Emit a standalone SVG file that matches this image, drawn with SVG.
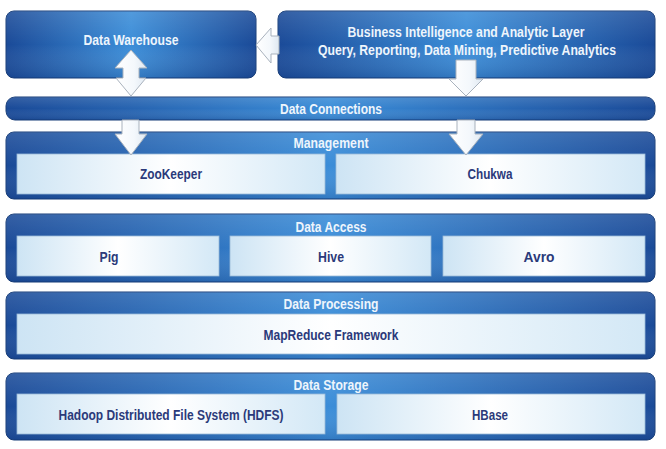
<svg xmlns="http://www.w3.org/2000/svg" width="666" height="449" viewBox="0 0 666 449">
<defs>
<linearGradient id="blueH" x1="0" y1="0" x2="1" y2="0">
<stop offset="0" stop-color="#1a4a98"/>
<stop offset="0.5" stop-color="#3b8dd8"/>
<stop offset="1" stop-color="#1a4a98"/>
</linearGradient>
<linearGradient id="blueV" x1="0" y1="0" x2="0" y2="1">
<stop offset="0" stop-color="#ffffff" stop-opacity="0.12"/>
<stop offset="0.5" stop-color="#ffffff" stop-opacity="0"/>
<stop offset="1" stop-color="#0a2a66" stop-opacity="0.2"/>
</linearGradient>
<linearGradient id="inner" x1="0" y1="0" x2="1" y2="0">
<stop offset="0" stop-color="#cde4f4"/>
<stop offset="0.5" stop-color="#ffffff"/>
<stop offset="1" stop-color="#d3e8f6"/>
</linearGradient>
<linearGradient id="arrowFill" x1="0" y1="0" x2="1" y2="0">
<stop offset="0" stop-color="#ffffff"/>
<stop offset="0.6" stop-color="#f4f8fc"/>
<stop offset="1" stop-color="#dfe8f1"/>
</linearGradient>
</defs>
<style>
.outer{fill:url(#blueH);stroke:#173d78;stroke-width:1}
.shade{fill:url(#blueV);stroke:none}
.in{fill:url(#inner);stroke:#9ab9d8;stroke-width:0.8}
.h{font-family:"Liberation Sans",Arial,sans-serif;font-weight:bold;font-size:14px;fill:#eef5fc;text-anchor:middle}
.t{font-family:"Liberation Sans",Arial,sans-serif;font-weight:bold;font-size:14px;fill:#2b3a7a;text-anchor:middle}
.arr{fill:url(#arrowFill);stroke:#a9b2bd;stroke-width:1;stroke-linejoin:miter}
</style>
<rect width="666" height="449" fill="#ffffff"/>

<g id="data-warehouse">
<rect class="outer" x="6" y="11" width="250" height="67" rx="8"/>
<rect class="shade" x="6" y="11" width="250" height="67" rx="8"/>
<text class="h" x="131" y="45" textLength="95" lengthAdjust="spacingAndGlyphs">Data Warehouse</text>
</g>

<g id="bi-layer">
<rect class="outer" x="278" y="11" width="377" height="67" rx="8"/>
<rect class="shade" x="278" y="11" width="377" height="67" rx="8"/>
<text class="h" x="466" y="37" textLength="237" lengthAdjust="spacingAndGlyphs">Business Intelligence and Analytic Layer</text>
<text class="h" x="467" y="55" textLength="298" lengthAdjust="spacingAndGlyphs">Query, Reporting, Data Mining, Predictive Analytics</text>
</g>

<g id="data-connections">
<rect class="outer" x="6" y="97" width="649" height="23" rx="9"/>
<rect class="shade" x="6" y="97" width="649" height="23" rx="9"/>
<text class="h" x="331" y="114" textLength="102" lengthAdjust="spacingAndGlyphs">Data Connections</text>
</g>

<g id="management">
<rect class="outer" x="6" y="132" width="649" height="67" rx="8"/>
<rect class="shade" x="6" y="132" width="649" height="67" rx="8"/>
<text class="h" x="331" y="148" textLength="75" lengthAdjust="spacingAndGlyphs">Management</text>
<g id="zookeeper">
<rect class="in" x="17" y="154" width="308" height="40"/>
<text class="t" x="171" y="179" textLength="62" lengthAdjust="spacingAndGlyphs">ZooKeeper</text>
</g>
<g id="chukwa">
<rect class="in" x="336" y="154" width="309" height="40"/>
<text class="t" x="490" y="179" textLength="45" lengthAdjust="spacingAndGlyphs">Chukwa</text>
</g>
</g>

<g id="data-access">
<rect class="outer" x="6" y="214" width="649" height="68" rx="8"/>
<rect class="shade" x="6" y="214" width="649" height="68" rx="8"/>
<text class="h" x="331" y="232" textLength="71" lengthAdjust="spacingAndGlyphs">Data Access</text>
<g id="pig">
<rect class="in" x="17" y="236" width="202" height="40"/>
<text class="t" x="109" y="262" textLength="19" lengthAdjust="spacingAndGlyphs">Pig</text>
</g>
<g id="hive">
<rect class="in" x="230" y="236" width="201" height="40"/>
<text class="t" x="331" y="262" textLength="26" lengthAdjust="spacingAndGlyphs">Hive</text>
</g>
<g id="avro">
<rect class="in" x="443" y="236" width="202" height="40"/>
<text class="t" x="539" y="262" textLength="31" lengthAdjust="spacingAndGlyphs">Avro</text>
</g>
</g>

<g id="data-processing">
<rect class="outer" x="6" y="292" width="649" height="67" rx="8"/>
<rect class="shade" x="6" y="292" width="649" height="67" rx="8"/>
<text class="h" x="331" y="309" textLength="95" lengthAdjust="spacingAndGlyphs">Data Processing</text>
<g id="mapreduce">
<rect class="in" x="17" y="314" width="628" height="40"/>
<text class="t" x="331" y="340" textLength="135" lengthAdjust="spacingAndGlyphs">MapReduce Framework</text>
</g>
</g>

<g id="data-storage">
<rect class="outer" x="6" y="373" width="649" height="67" rx="8"/>
<rect class="shade" x="6" y="373" width="649" height="67" rx="8"/>
<text class="h" x="331" y="390" textLength="75" lengthAdjust="spacingAndGlyphs">Data Storage</text>
<g id="hdfs">
<rect class="in" x="17" y="394" width="308" height="40"/>
<text class="t" x="171" y="420" textLength="225" lengthAdjust="spacingAndGlyphs">Hadoop Distributed File System (HDFS)</text>
</g>
<g id="hbase">
<rect class="in" x="337" y="394" width="308" height="40"/>
<text class="t" x="490" y="420" textLength="36" lengthAdjust="spacingAndGlyphs">HBase</text>
</g>
</g>

<g id="connectors">
<path class="arr" d="M131,50 L147,68 L139,68 L139,78 L146,78 L131,96 L116,78 L123,78 L123,68 L115,68 Z"/>
<path class="arr" d="M256,45 L271,28 L271,36 L279,36 L279,54 L271,54 L271,63 Z"/>
<path class="arr" d="M456,60 L476,60 L476,79 L483,79 L466,96 L449,79 L456,79 Z"/>
<path class="arr" d="M122,120 L139,120 L139,134 L147,134 L131,155 L115,134 L122,134 Z"/>
<path class="arr" d="M457,120 L475,120 L475,134 L483,134 L466,155 L449,134 L457,134 Z"/>
</g>
</svg>
